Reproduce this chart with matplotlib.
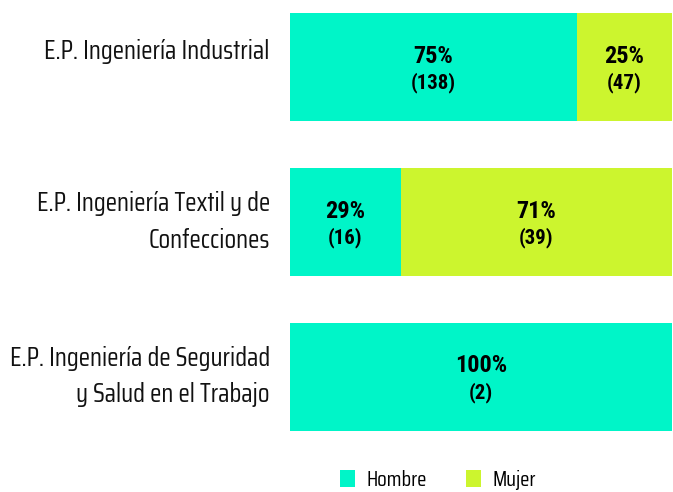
import matplotlib
matplotlib.use("Agg")
import matplotlib.pyplot as plt
from matplotlib.patches import Patch

categories = ["E.P. Ingeniería Industrial",
              "E.P. Ingeniería Textil y de\nConfecciones",
              "E.P. Ingeniería de Seguridad\ny Salud en el Trabajo"]
hombre_pct = [75, 29, 100]
mujer_pct = [25, 71, 0]
hombre_n = [138, 16, 2]
mujer_n = [47, 39, 0]
series_names = ["Hombre", "Mujer"]
colors = ["#00F5C8", "#CCF52E"]

label_font = ["Saira Condensed", "DejaVu Sans"]
value_font = ["Roboto Condensed", "DejaVu Sans"]

fig = plt.figure(figsize=(6.73, 4.92), dpi=100)
ax = fig.add_axes([290/673, 1-431/492, 382/673, (431-13)/492])

y = list(range(len(categories)))
h = 0.70
ax.barh(y, hombre_pct, height=h, color=colors[0])
ax.barh(y, mujer_pct, left=hombre_pct, height=h, color=colors[1])
ax.set_xlim(0, 100)
ax.set_ylim(len(categories)-1+h/2, -h/2)
ax.axis("off")

for i in y:
    for left, pct, n in [(0, hombre_pct[i], hombre_n[i]), (hombre_pct[i], mujer_pct[i], mujer_n[i])]:
        if pct <= 0:
            continue
        cx = left + pct/2
        ax.text(cx, i - 0.07, f"{pct}%", ha="center", va="center",
                fontsize=17.5, fontweight="bold", family=value_font)
        ax.text(cx, i + 0.10, f"({n})", ha="center", va="center",
                fontsize=15, fontweight="bold", family=value_font)
    lab = categories[i]
    yy = i - 0.10 if "\n" not in lab else i
    ax.text(-5.3, yy, lab, ha="right", va="center", fontsize=19,
            family=label_font, linespacing=1.55, color="#111111")

handles = [Patch(facecolor=c, edgecolor="none") for c in colors]
fig.legend(handles, series_names, loc="center", bbox_to_anchor=(438/673, 1-480/492),
           ncol=2, frameon=False, prop={"family": label_font, "size": 15.5},
           handlelength=0.7, handleheight=0.88, columnspacing=1.8, handletextpad=0.55)

fig.savefig("out.png", dpi=100)
